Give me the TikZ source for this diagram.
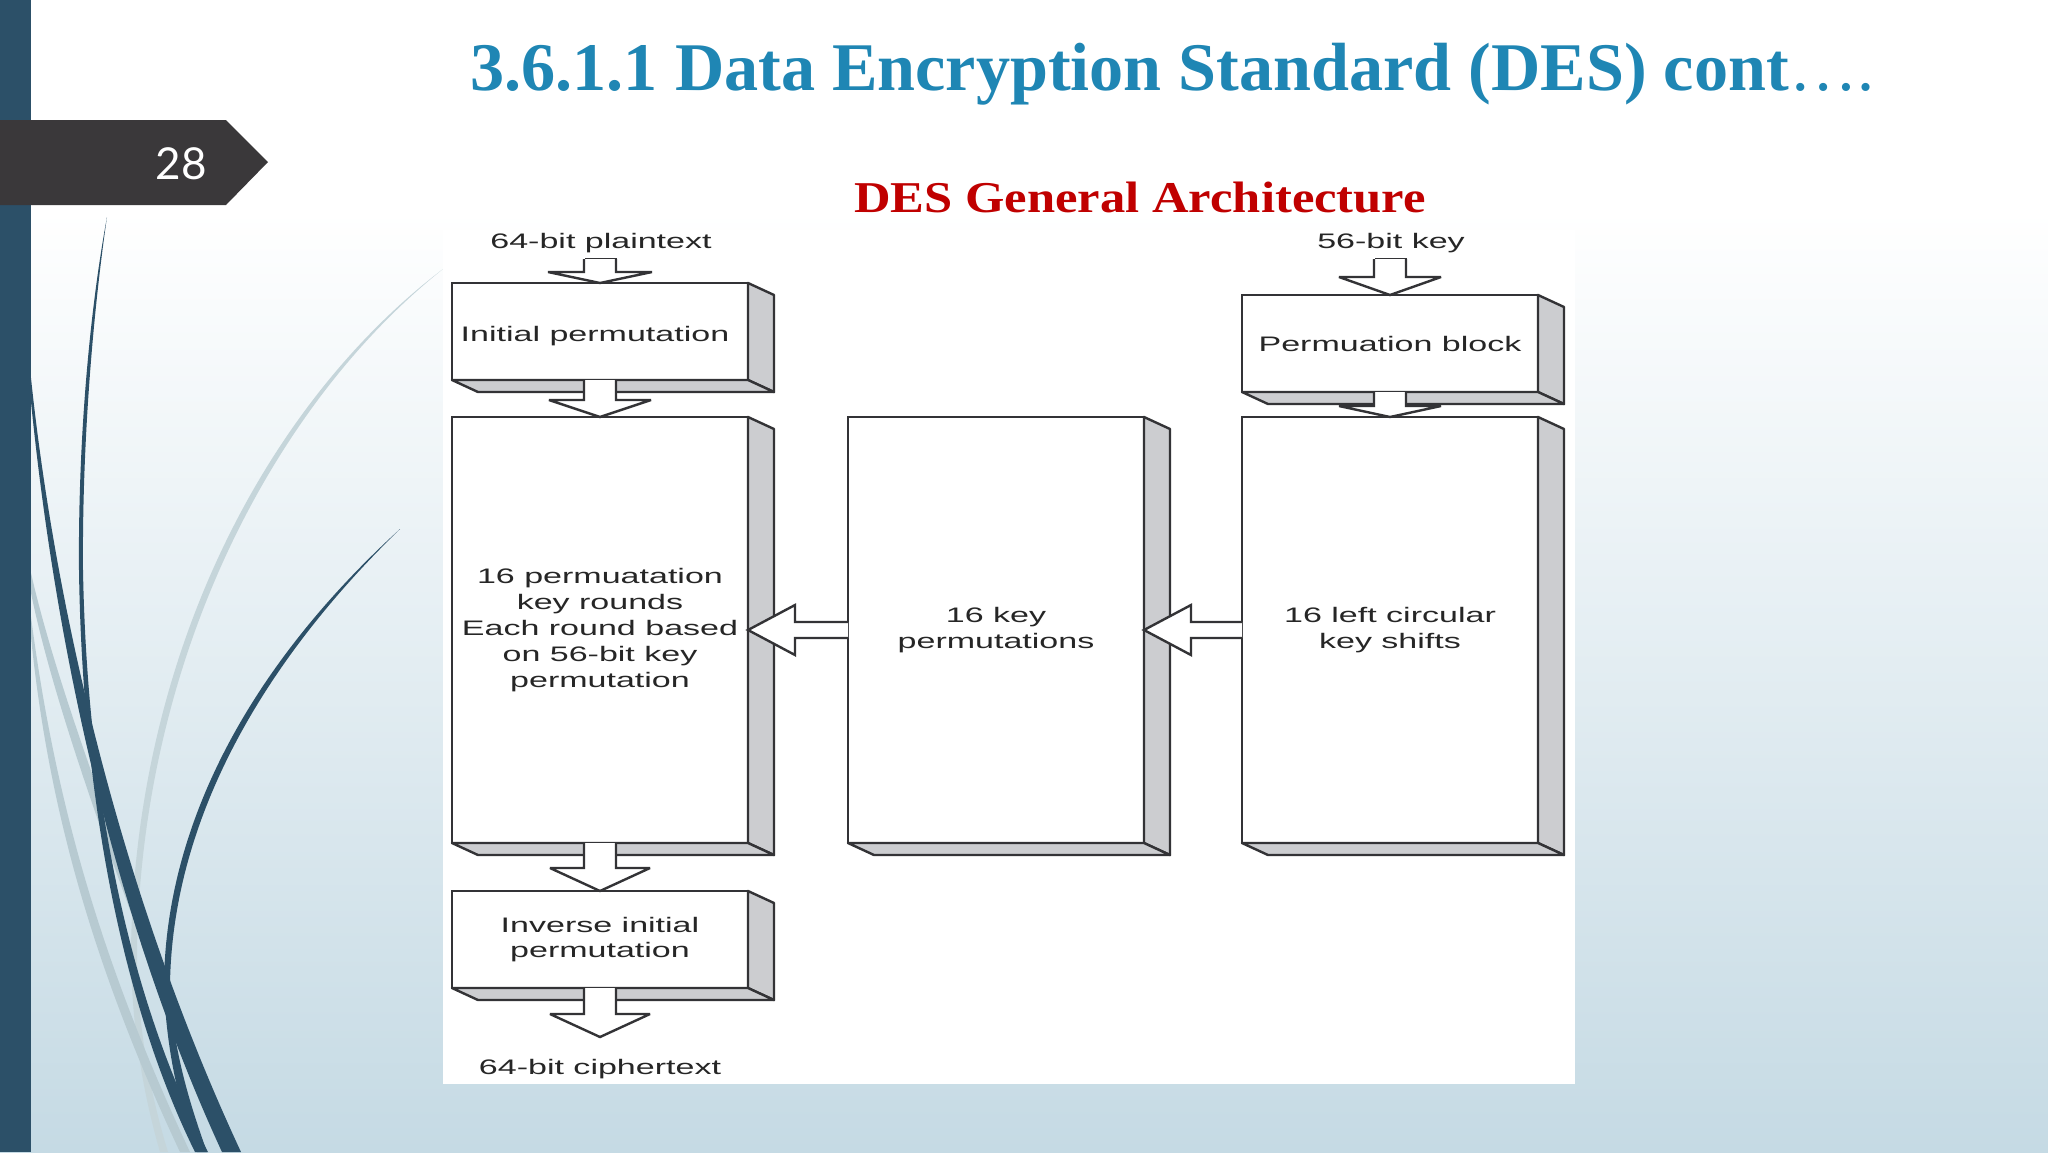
\documentclass[tikz,border=0pt]{standalone}
\usepackage{fontspec}
\usetikzlibrary{calc}
\setmainfont{Liberation Serif}
\newfontfamily\diagf[FakeStretch=1.62]{Liberation Sans}
\newfontfamily\subf[FakeStretch=1.15]{Liberation Serif}
\newfontfamily\numf{Lato}
\definecolor{barc}{HTML}{2C5068}
\definecolor{tagc}{HTML}{3A383A}
\definecolor{titlec}{HTML}{1F86B4}
\definecolor{redc}{HTML}{C00000}
\definecolor{sidec}{HTML}{CCCDD0}
\definecolor{linec}{HTML}{333336}
\definecolor{bgb}{HTML}{C5DAE4}
\definecolor{palec}{HTML}{B7CAD1}
\tikzset{
 box/.style={draw=linec,line width=1.3pt,fill=white,inner sep=0pt,outer sep=0pt,align=center,
   font=\diagf\fontsize{10.5}{12.9}\selectfont,text=black!85},
 lab/.style={inner sep=0pt,outer sep=0pt,align=center,font=\diagf\fontsize{10.5}{12.9}\selectfont,text=black!85},
 arrline/.style={draw=linec,line width=1.2pt,line join=miter,miter limit=2.5},
 shadeface/.style={fill=sidec,draw=linec,line width=1.2pt,line join=round},
}
\newcommand{\boxshade}[1]{%
  \draw[shadeface] (#1.north east) -- ++(26,12) -- ($(#1.south east)+(26,12)$) -- (#1.south east) -- cycle;
  \draw[shadeface] (#1.south west) -- ++(26,12) -- ($(#1.south east)+(26,12)$) -- (#1.south east) -- cycle;}
% #1 from, #2 to, #3 head height, #4 head half width
\newcommand{\dnarrow}[4]{%
  \fill[white] ($(#1 -| #2)+(-16,0)$) -- ($(#2)+(-16,-#3)$) -- ($(#2)+(-#4,-#3)$) -- (#2) -- ($(#2)+(#4,-#3)$) -- ($(#2)+(16,-#3)$) -- ($(#1 -| #2)+(16,0)$) -- cycle;
  \draw[arrline] ($(#1 -| #2)+(-16,0)$) -- ($(#2)+(-16,-#3)$) -- ($(#2)+(-#4,-#3)$) -- (#2) -- ($(#2)+(#4,-#3)$) -- ($(#2)+(16,-#3)$) -- ($(#1 -| #2)+(16,0)$);}
\newcommand{\lfarrow}[2]{%
  \fill[white] ($(#1)+(0,-8)$) -- ($(#2)+(47,-8)$) -- ($(#2)+(47,-25)$) -- (#2) -- ($(#2)+(47,25)$) -- ($(#2)+(47,8)$) -- ($(#1)+(0,8)$) -- cycle;
  \draw[arrline] ($(#1)+(0,-8)$) -- ($(#2)+(47,-8)$) -- ($(#2)+(47,-25)$) -- (#2) -- ($(#2)+(47,25)$) -- ($(#2)+(47,8)$) -- ($(#1)+(0,8)$);}
\begin{document}
\begin{tikzpicture}[x=0.5pt,y=-0.5pt]
\useasboundingbox (0,0) rectangle (2048,1152);
\fill[white] (0,0) rectangle (2048,210);
\fill[top color=white,bottom color=bgb] (0,210) rectangle (2048,1152);
% decorative swooshes
\fill[palec!80!white] (443,269) .. controls (270,400) and (135,650) .. (131,950) .. controls (131,1030) and (145,1100) .. (160,1152) -- (168,1152) .. controls (152,1100) and (137,1030) .. (137,950) .. controls (142,655) and (275,403) .. (443,269) -- cycle;
\fill[palec] (31,573) .. controls (60,700) and (130,880) .. (233,1152) -- (222,1152) .. controls (120,890) and (55,710) .. (31,593) -- cycle;
\fill[palec] (31,617) .. controls (55,800) and (100,960) .. (190,1152) -- (180,1152) .. controls (92,965) and (48,805) .. (31,637) -- cycle;
\fill[barc] (107,217) .. controls (88,320) and (78,450) .. (79,570) .. controls (82,790) and (120,1000) .. (195,1152) -- (208,1152) .. controls (127,995) and (87,790) .. (83,570) .. controls (82,450) and (92,320) .. (107,217) -- cycle;
\fill[barc] (400,529) .. controls (245,670) and (165,830) .. (164,985) .. controls (166,1050) and (180,1110) .. (197,1152) -- (207,1152) .. controls (192,1110) and (172,1050) .. (170,985) .. controls (172,832) and (250,675) .. (400,529) -- cycle;
\fill[barc] (31,378) .. controls (50,560) and (105,860) .. (241,1152) -- (222,1152) .. controls (92,870) and (48,570) .. (31,402) -- cycle;
% left bar and tag
\fill[barc] (0,0) rectangle (31,1152);
\fill[tagc] (0,120) -- (226,120) -- (268,162) -- (226,205) -- (0,205) -- cycle;
\node[inner sep=0pt,text=white,font=\numf\fontsize{22}{24}\selectfont] (pageno) at (181,164) {28};
% title
\node[anchor=base west,inner sep=0pt,text=titlec,font=\fontsize{34.1}{40}\selectfont\bfseries] (title) at (470,90) {3.6.1.1 Data Encryption Standard (DES) cont{\mdseries….}};
\node[anchor=base west,inner sep=0pt,text=redc,font=\subf\fontsize{22}{24}\selectfont\bfseries] (subtitle) at (854,212) {DES General Architecture};
% figure panel
\fill[white] (443,230) rectangle (1575,1084);
% text labels
\node[lab,minimum height=16pt] (plain) at (601,243) {64-bit plaintext};
\node[lab,minimum height=16pt] (key) at (1391,243) {56-bit key};
\node[lab,minimum height=32pt] (cipher) at (600,1069) {64-bit ciphertext};
% boxes
\node[box,minimum width=148pt,minimum height=48.5pt] (ip) at (600,331.5) {\hspace*{-5pt}\rule{0pt}{12.5pt}Initial permutation};
\boxshade{ip}
\node[box,minimum width=148pt,minimum height=213pt] (rounds) at (600,630) {16 permuatation\\key rounds\\Each round based\\on 56-bit key\\permutation};
\boxshade{rounds}
\node[box,minimum width=148pt,minimum height=48.5pt] (inv) at (600,939.5) {Inverse initial\\permutation};
\boxshade{inv}
\node[box,minimum width=148pt,minimum height=213pt] (kp) at (996,630) {16 key\\permutations};
\boxshade{kp}
\node[box,minimum width=148pt,minimum height=48.5pt] (pb) at (1390,343.5) {Permuation block};
\boxshade{pb}
\node[box,minimum width=148pt,minimum height=213pt] (ls) at (1390,630) {16 left circular\\key shifts};
\boxshade{ls}
% connectors
\draw[arrline] ($(plain.south)+(-16,0)$) -- ($(plain.south)+(16,0)$);
\dnarrow{plain.south}{ip.north}{11}{52}
\draw[arrline] ($(key.south)+(-16,0)$) -- ($(key.south)+(16,0)$);
\dnarrow{key.south}{pb.north}{18}{51}
\dnarrow{ip.south}{rounds.north}{17}{51}
\dnarrow{pb.south}{ls.north}{11}{51}
\dnarrow{rounds.south}{inv.north}{23}{50}
\dnarrow{inv.south}{cipher.north}{23}{50}
\lfarrow{kp.west}{rounds.east}
\lfarrow{ls.west}{kp.east}
\end{tikzpicture}
\end{document}
